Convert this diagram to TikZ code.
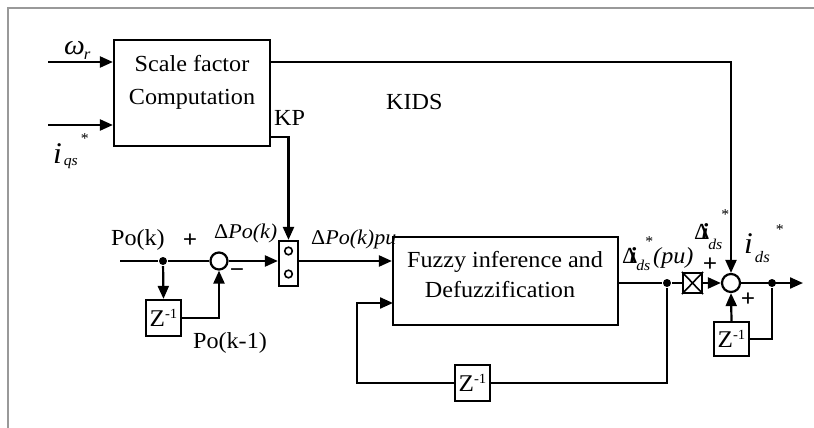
\documentclass[tikz,border=0pt]{standalone}
\usepackage{fontspec}
\setmainfont[FakeStretch=1.05]{Liberation Serif}
\usetikzlibrary{arrows.meta}
\newcommand\fs[1]{\fontsize{#1}{#1}\selectfont}
\newcommand\zinv{{\fs{24}Z}\raisebox{8pt}{\fs{14}-1}}
\begin{document}
\begin{tikzpicture}[x=1pt,y=-1pt,
  line width=2.2pt,
  arr/.style={-{Triangle[length=13pt,width=11pt]}},
  blk/.style={draw,rectangle,inner sep=0pt,line width=2.2pt},
  zblk/.style={blk,minimum width=35pt,minimum height=36pt},
  sumc/.style={draw,circle,inner sep=0pt,line width=2.2pt},
  dot/.style={circle,fill,inner sep=0pt,minimum size=8pt},
  txt/.style={inner sep=0pt,font=\fs{23}},
  lbl/.style={inner sep=0pt,anchor=base west},
  sgn/.style={inner sep=0pt,font=\fs{24}\bfseries},
]
\useasboundingbox (0,0) rectangle (814,428);
\draw[gray!80,line width=1.5pt] (814,8) -- (8,8) -- (8,428);

% blocks
\node[blk,minimum width=156pt,minimum height=106pt] (scale) at (192,93) {};
\node[txt,anchor=base] (scaleA) at (192,72) {Scale factor};
\node[txt,anchor=base] (scaleB) at (192,104) {Computation};
\node[txt,anchor=base west] (kids) at (385,110) {KIDS};
\node[txt,anchor=base west] (kp) at (273,125) {KP};

\node[blk,minimum width=225pt,minimum height=88pt] (fuzzy) at (505.5,281) {};
\node[txt,anchor=base] (fzA) at (505,267) {Fuzzy inference and};
\node[txt,anchor=base] (fzB) at (500,297) {Defuzzification};

\node[zblk] (z1) at (163.5,318) {\zinv};
\node[zblk] (z2) at (472.5,383) {\zinv};
\node[zblk,minimum height=34pt] (z3) at (731.5,339) {\zinv};

\node[blk,minimum width=19pt,minimum height=45pt] (sw) at (288.5,263.5) {};
\draw[line width=1.6pt] (288.5,251) circle (3.8pt) (288.5,274) circle (3.8pt);

\node[blk,minimum width=19pt,minimum height=20pt] (cross) at (692.5,283) {};
\draw[line width=1.6pt] (cross.north west) -- (cross.south east) (cross.north east) -- (cross.south west);

\node[sumc,minimum size=17pt] (sum1) at (219,261) {};
\node[sumc,minimum size=18pt] (sum2) at (731,283) {};

\node[dot] (d1) at (163,261) {};
\node[dot] (d2) at (667,283) {};
\node[dot] (d3) at (772,283) {};

\coordinate (inw) at (48,62);
\coordinate (ini) at (48,125);
\coordinate (pin) at (120,261);
\coordinate (out) at (803,283);
\coordinate (top) at (731,62);
\coordinate (kpc) at (288.5,137);
\coordinate (z3c) at (772,339);
\coordinate (fbR) at (667,383);
\coordinate (fbL) at (357,383);
\coordinate (fbU) at (357,303);
\coordinate (fin) at (393,303);

% connectors
\draw[arr] (inw) -- (inw -| scale.west);
\draw[arr] (ini) -- (ini -| scale.west);
\draw[arr] (inw -| scale.east) -- (top) -- (sum2.north);
\draw[arr] (kpc -| scale.east) -- (kpc) -- (sw.north);
\draw (pin) -- (d1) -- (sum1.west);
\draw[arr] (d1) -- (z1.north);
\draw[arr] (z1.east) -| (sum1.south);
\draw[arr] (sum1.east) -- (sw.west |- sum1.east);
\draw[arr] (sw.east |- sum1.east) -- (fuzzy.west |- sum1.east);
\draw (fuzzy.east |- d2) -- (d2) -- (cross.west);
\draw[arr] (cross.east) -- (sum2.west);
\draw[arr] (sum2.east) -- (out);
\draw (d3) -- (z3c) -- (z3.east |- z3c);
\draw[arr] (z3.north) -- (sum2.south);
\draw (d2) -- (fbR) -- (z2.east);
\draw[arr] (z2.west) -- (fbL) -- (fbU) -- (fin);

% labels left
\node[lbl] (om) at (63,55) {{\fs{28}\itshape ω}\kern-1pt\raisebox{-5pt}{\fs{16}\itshape r}};
\node[lbl] (iq) at (52,163) {{\fs{30}\itshape i}\kern2pt\raisebox{-2pt}{\fs{15}\itshape qs}\kern3pt\raisebox{20pt}{\fs{15}*}};

\node[lbl,font=\fs{23}] (pok) at (110,245) {Po(k)};
\node[sgn] (plus1) at (190,241) {+};
\node[sgn] (minus1) at (237,273) {−};
\node[lbl] (dpok) at (213,238) {\fs{21}Δ\itshape Po(k)};
\node[lbl] (dpokpu) at (310,244) {\fs{21}Δ\itshape Po(k)pu};
\node[lbl,font=\fs{23}] (pok1) at (192,348) {Po(k-1)};

% labels right
\node[lbl] (dA) at (621,263) {{\fs{23}Δ}\kern-8pt{\fs{23}\bfseries\itshape i}\raisebox{-7pt}{\fs{15}\itshape ds}\kern-5pt\raisebox{17pt}{\fs{15}*}{\fs{23}\itshape (pu)}};
\node[lbl] (dB) at (693,239) {{\fs{23}Δ}\kern-8pt{\fs{23}\bfseries\itshape i}\raisebox{-10pt}{\fs{15}\itshape ds}\kern-1pt\raisebox{20pt}{\fs{15}*}};
\node[lbl] (ids) at (743,253) {{\fs{30}\itshape i}\kern2pt\raisebox{-9pt}{\fs{16}\itshape ds}\kern6pt\raisebox{19pt}{\fs{15}*}};

\node[sgn] (plus2) at (710,265) {+};
\node[sgn] (plus3) at (748,300) {+};
\end{tikzpicture}
\end{document}
